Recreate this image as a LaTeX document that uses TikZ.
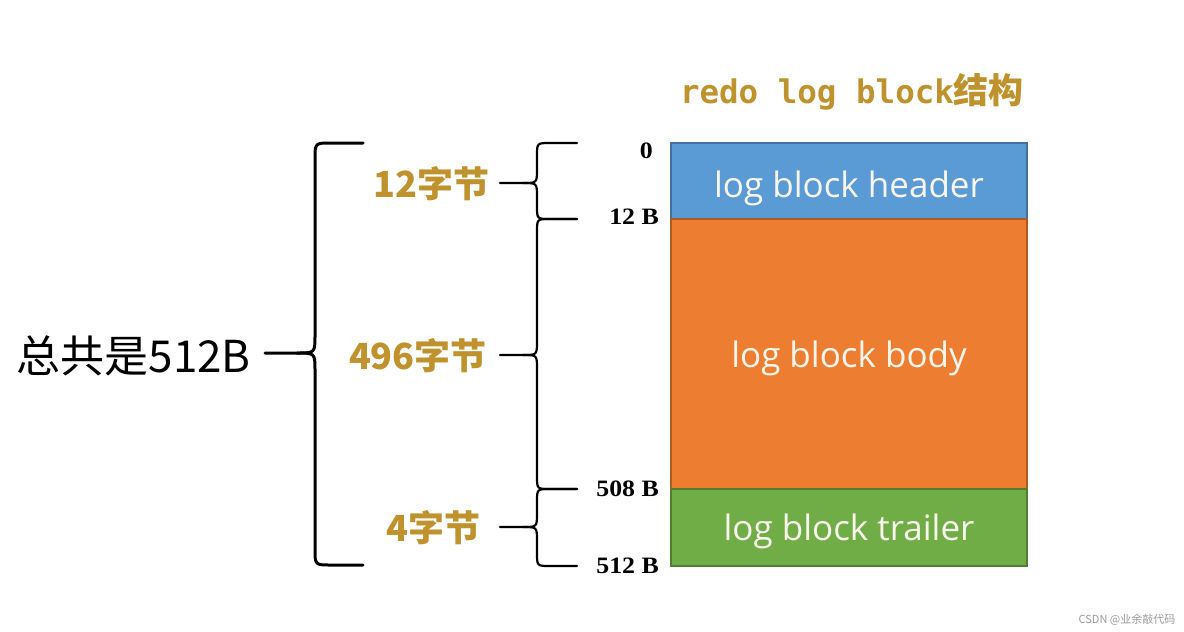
\documentclass[tikz,border=0pt]{standalone}
\usepackage{fontspec}
\setmainfont{Open Sans}
\newfontfamily\cjk{Noto Sans CJK SC}
\newfontfamily\monof{DejaVu Sans Mono}
\newfontfamily\timesf[FakeStretch=1.1]{Liberation Serif}
\definecolor{hdrfill}{HTML}{5B9BD5}
\definecolor{hdrline}{HTML}{41719C}
\definecolor{bodyfill}{HTML}{ED7D31}
\definecolor{bodyline}{HTML}{AE5A21}
\definecolor{trlfill}{HTML}{70AD47}
\definecolor{trlline}{HTML}{507E32}
\definecolor{gold}{HTML}{BF922D}
\definecolor{boxtext}{HTML}{F8F6EC}
\definecolor{wmark}{HTML}{9A9A9A}
\tikzset{
  braceline/.style={line width=2.2pt, black, line cap=round, line join=round},
  bigbraceline/.style={braceline, line width=3pt},
  goldlabel/.style={text=gold, anchor=east, inner sep=0pt, font=\cjk\bfseries\fontsize{36}{40}\selectfont},
  offlabel/.style={anchor=east, inner sep=0pt, font=\timesf\bfseries\fontsize{23.5}{28}\selectfont},
  blk/.style={line width=2pt, minimum width=356pt, inner sep=0pt},
  blktext/.style={anchor=base, inner sep=0pt, text=boxtext, font=\fontsize{35}{40}\selectfont},
}
% #1 xv, #2 xe, #3 xt, #4 top, #5 mid, #6 bot, #7 end radius, #8 tip radius, #9 style
\newcommand\mybrace[9]{%
  \draw[#9] (#2,#4) -- (#1+#7,#4) .. controls (#1,#4) .. (#1,#4+#7) -- (#1,#5-#8)
     .. controls (#1,#5) .. (#1-#8,#5) -- (#3,#5);
  \draw[#9] (#1-#8,#5) .. controls (#1,#5) .. (#1,#5+#8) -- (#1,#6-#7)
     .. controls (#1,#6) .. (#1+#7,#6) -- (#2,#6);
}
\begin{document}
\begin{tikzpicture}[x=1pt,y=-1pt]
\fill[white] (0,0) rectangle (1184,632);
\useasboundingbox (0,0) rectangle (1184,632);

% title
\node[text=gold, inner sep=0pt] (title) at (852,92)
  {\monof\bfseries\fontsize{32.5}{36}\selectfont redo log block\cjk\bfseries\fontsize{35}{36}\selectfont 结构};

% blocks
\node[blk, draw=hdrline, fill=hdrfill, minimum height=76pt] (hdr) at (849,181) {};
\node[blk, draw=bodyline, fill=bodyfill, minimum height=270pt] (body) at (849,354) {};
\node[blk, draw=trlline, fill=trlfill, minimum height=77pt] (trl) at (849,527.5) {};
\node[blktext] (thdr) at (849,197) {log block header};
\node[blktext] (tbody) at (849,367) {log block body};
\node[blktext] (ttrl) at (849,540) {log block trailer};

% offsets
\node[offlabel] (o0) at (653,151) {0};
\node[offlabel] (o12) at (659,217) {12 B};
\node[offlabel] (o508) at (659,489) {508 B};
\node[offlabel] (o512) at (659,566) {512 B};

% small braces
\mybrace{537}{577}{500}{143}{183}{219}{13}{14}{braceline}
\mybrace{537}{577}{500}{219}{355}{489}{13}{14}{braceline}
\mybrace{537}{577}{500}{489}{527}{566}{13}{14}{braceline}

% gold labels
\node[goldlabel] (l12) at (490,184) {12字节};
\node[goldlabel] (l496) at (487,356) {496字节};
\node[goldlabel] (l4) at (481,528) {4字节};

% big brace
\mybrace{315}{363}{265}{143}{353}{565}{16}{18}{bigbraceline}
\node[anchor=east, inner sep=0pt, font=\cjk\fontsize{44}{50}\selectfont] (total) at (251,356) {总共是512B};

% watermark
\node[text=wmark, inner sep=0pt, font=\cjk\fontsize{11}{13}\selectfont] (wm) at (1127,620) {CSDN @业余敲代码};
\end{tikzpicture}
\end{document}
